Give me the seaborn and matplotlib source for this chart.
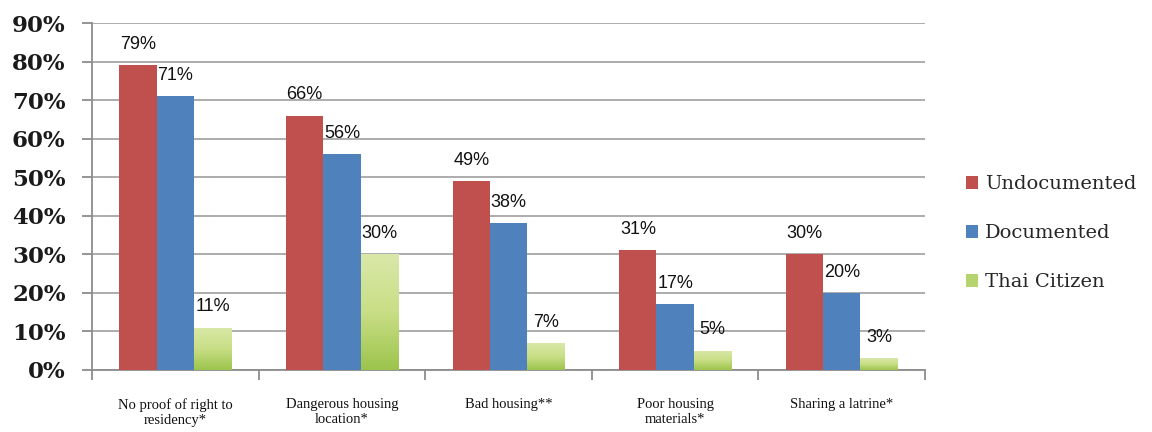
import numpy as np
import pandas as pd
import matplotlib
matplotlib.use("Agg")
import matplotlib.pyplot as plt
import matplotlib.ticker as mticker
from matplotlib.colors import LinearSegmentedColormap
from matplotlib.patches import Patch
import seaborn as sns

categories = ["No proof of right to\nresidency*", "Dangerous housing\nlocation*",
              "Bad housing**", "Poor housing\nmaterials*", "Sharing a latrine*"]
series = ["Undocumented", "Documented", "Thai Citizen"]
undocumented = [79, 66, 49, 31, 30]
documented = [71, 56, 38, 17, 20]
thai_citizen = [11, 30, 7, 5, 3]
y_ticks = [0, 10, 20, 30, 40, 50, 60, 70, 80, 90]

colors = {"Undocumented": "#C0504D", "Documented": "#4F81BD", "Thai Citizen": "#9BBB59"}

rows = []
for name, vals in zip(series, [undocumented, documented, thai_citizen]):
    for c, v in zip(categories, vals):
        rows.append({"category": c, "series": name, "value": v})
df = pd.DataFrame(rows)

sns.set_style("white")
fig = plt.figure(figsize=(11.52, 4.32), dpi=100)
ax = fig.add_axes([92 / 1152, 1 - 370 / 432, (925 - 92) / 1152, (370 - 23) / 432])

sns.barplot(data=df, x="category", y="value", hue="series", order=categories,
            hue_order=series, palette=colors, width=0.67, ax=ax, legend=False,
            saturation=1, edgecolor="none", zorder=3)

ax.set_ylim(0, 90)
ax.set_xlim(-0.5, len(categories) - 0.5)
ax.set_yticks(y_ticks)
ax.yaxis.set_major_formatter(mticker.FuncFormatter(lambda v, p: f"{int(v)}%"))
ax.grid(axis="y", color="#a6a6a6", linewidth=1.3, zorder=0)
ax.set_axisbelow(True)
for s in ["top", "right"]:
    ax.spines[s].set_visible(False)
for s in ["left", "bottom"]:
    ax.spines[s].set_color("#8c8c8c")
    ax.spines[s].set_linewidth(1.3)

ax.tick_params(axis="y", direction="out", length=7, width=1.3, color="#8c8c8c", pad=12,
               left=True)
for lab in ax.get_yticklabels():
    lab.set_fontfamily("DejaVu Serif")
    lab.set_fontweight("bold")
    lab.set_fontsize(16.5)
    lab.set_color("#1a1a1a")

ax.set_xticks(np.arange(len(categories)))
ax.set_xticklabels(categories, fontfamily="Liberation Serif", fontsize=10.5, color="#111111",
                   linespacing=1.25)
ax.tick_params(axis="x", which="major", length=0, pad=20)
ax.set_xticks(np.arange(-0.5, len(categories)), minor=True)
ax.tick_params(axis="x", which="minor", direction="out", length=7, width=1.3,
               color="#8c8c8c", bottom=True)
ax.set_xlabel("")
ax.set_ylabel("")

# green gradient + value labels
cmap = LinearSegmentedColormap.from_list("g", ["#D9E8A8", "#C9DE86", "#9CC44C"])
grad = np.linspace(0, 1, 256).reshape(-1, 1)
n = len(categories)
for i, p in enumerate(list(ax.patches)[: 3 * n]):
    s_idx = i // n
    x0, w, h = p.get_x(), p.get_width(), p.get_height()
    if s_idx == 2:
        p.set_facecolor("none")
        im = ax.imshow(grad, aspect="auto", cmap=cmap, extent=(x0, x0 + w, 0, h),
                       origin="upper", zorder=3)
        im.set_clip_path(p)
    ax.annotate(f"{int(round(h))}%", (x0 + w / 2, h), xytext=(0, 15),
                textcoords="offset points", ha="center", va="center",
                fontfamily="Liberation Sans", fontsize=13, color="#111111", zorder=5)

ax.set_xlim(-0.5, len(categories) - 0.5)
ax.set_ylim(0, 90)

handles = [Patch(facecolor=colors[s], edgecolor="none") for s in series]
handles[2] = Patch(facecolor="#B5D36E", edgecolor="none")
fig.legend(handles, series, loc="center left", bbox_to_anchor=(948 / 1152, 1 - 233 / 432),
           frameon=False, prop={"family": "DejaVu Serif", "size": 14},
           handlelength=0.65, handleheight=0.65, handletextpad=0.35, labelspacing=1.6)

fig.savefig("out.png", dpi=100, facecolor="white")
